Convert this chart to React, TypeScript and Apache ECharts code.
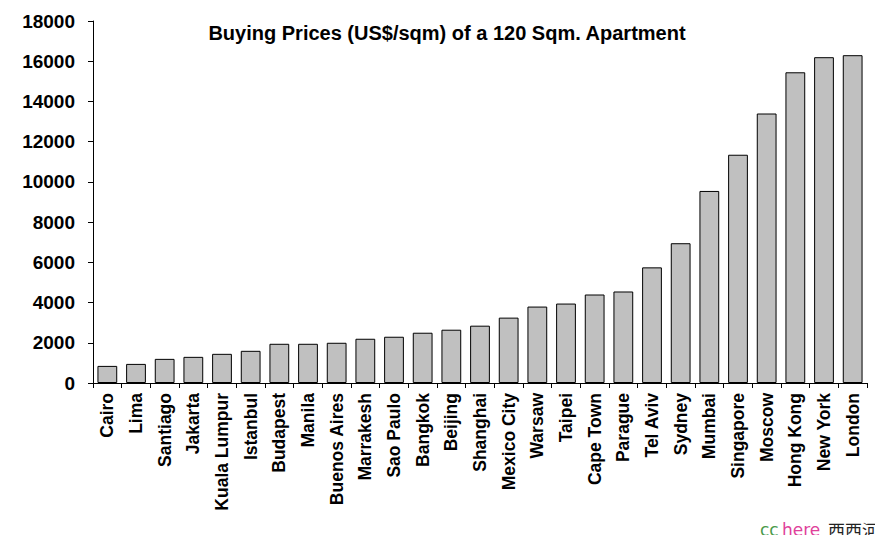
import React, { useEffect, useRef } from "react";
import * as echarts from "echarts";

const cities = [
  "Cairo", "Lima", "Santiago", "Jakarta", "Kuala Lumpur", "Istanbul", "Budapest",
  "Manila", "Buenos Aires", "Marrakesh", "Sao Paulo", "Bangkok", "Beijing",
  "Shanghai", "Mexico City", "Warsaw", "Taipei", "Cape Town", "Parague",
  "Tel Aviv", "Sydney", "Mumbai", "Singapore", "Moscow", "Hong Kong",
  "New York", "London",
];
const prices = [
  850, 950, 1200, 1300, 1450, 1600, 1950, 1950, 2000, 2200, 2300, 2500, 2650,
  2850, 3250, 3800, 3950, 4400, 4550, 5750, 6950, 9550, 11350, 13400, 15450,
  16200, 16300,
];
const titleText = "Buying Prices (US$/sqm) of a 120 Sqm. Apartment";

const FONT = "Arial, 'Liberation Sans', sans-serif";
const WM_FONT = "Verdana, 'DejaVu Sans', sans-serif";

export default function App() {
  const ref = useRef<HTMLDivElement>(null);
  useEffect(() => {
    if (!ref.current) return;
    const chart = echarts.init(ref.current, null, { renderer: "svg" });
    chart.setOption({
      animation: false,
      backgroundColor: "#ffffff",
      title: {
        text: titleText,
        left: 442,
        top: 18,
        textAlign: "center",
        textStyle: { fontFamily: FONT, fontWeight: "bold", fontSize: 20, color: "#000" },
      },
      grid: { left: 93, right: 16, top: 21, bottom: 160, containLabel: false },
      xAxis: {
        type: "category",
        data: cities,
        axisLine: { lineStyle: { color: "#000", width: 1 } },
        axisTick: { show: true, length: 5, alignWithLabel: false, lineStyle: { color: "#000" } },
        axisLabel: {
          rotate: 90,
          interval: 0,
          margin: 10,
          fontFamily: FONT,
          fontWeight: "bold",
          fontSize: 17.5,
          color: "#000",
        },
      },
      yAxis: {
        type: "value",
        min: 0,
        max: 18000,
        interval: 2000,
        splitLine: { show: false },
        axisLine: { show: true, lineStyle: { color: "#000", width: 1 } },
        axisTick: { show: true, length: 5, lineStyle: { color: "#000" } },
        axisLabel: {
          margin: 18,
          formatter: (v: number) => String(v),
          fontFamily: FONT,
          fontWeight: "bold",
          fontSize: 19,
          color: "#000",
        },
      },
      series: [
        {
          type: "bar",
          data: prices,
          barCategoryGap: "31%",
          itemStyle: { color: "#c0c0c0", borderColor: "#000", borderWidth: 1 },
        },
      ],
      graphic: [
        {
          type: "text",
          x: 760,
          y: 530,
          style: { text: "cc", fill: "#4a9a4a", fontSize: 17, fontFamily: WM_FONT, textVerticalAlign: "middle" },
        },
        {
          type: "text",
          x: 782,
          y: 530,
          style: { text: "here", fill: "#e0409a", fontSize: 17, fontFamily: WM_FONT, textVerticalAlign: "middle" },
        },
        {
          type: "text",
          x: 828,
          y: 529,
          style: { text: "西西河", fill: "#222222", fontSize: 17, fontFamily: "'Noto Sans CJK SC', sans-serif", textVerticalAlign: "middle" },
        },
      ],
    });
    return () => chart.dispose();
  }, []);
  return <div ref={ref} style={{ width: 883, height: 543, margin: -8 }} />;
}
